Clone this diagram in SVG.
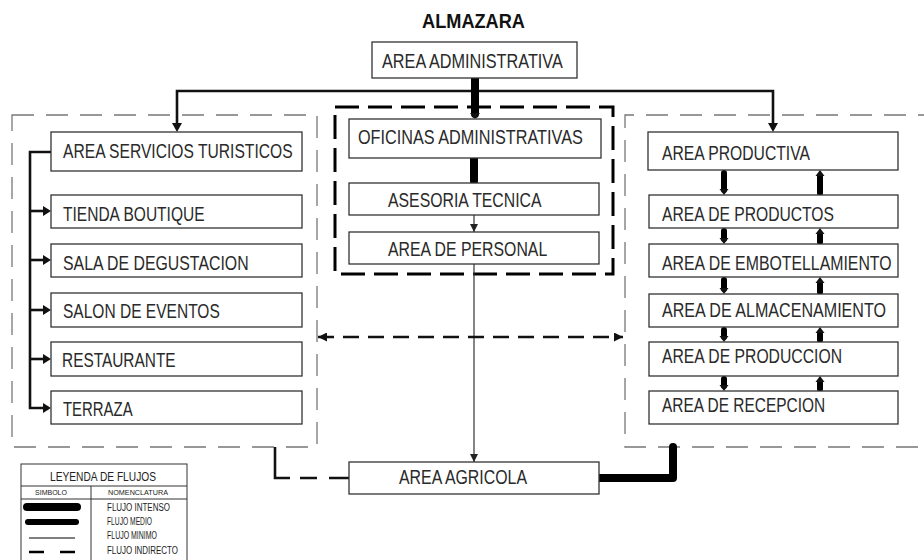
<svg xmlns="http://www.w3.org/2000/svg" width="924" height="560" viewBox="0 0 924 560">
<defs>
<style>
.bx{fill:#fff;stroke:#333;stroke-width:1.3}
.t{font-family:"Liberation Sans",Arial,sans-serif;font-size:21px;fill:#2a2a2a}
.ttl{font-family:"Liberation Sans",Arial,sans-serif;font-size:21px;font-weight:bold;fill:#111}
.lg{font-family:"Liberation Sans",Arial,sans-serif;fill:#222}
.zone{fill:none;stroke:#777;stroke-width:1.3;stroke-dasharray:22 12}
.med{fill:none;stroke:#111;stroke-width:2.6}
.thin{fill:none;stroke:#333;stroke-width:1.2}
.heavy{fill:none;stroke:#000;stroke-linecap:round;stroke-linejoin:round}
.ah{fill:#111}
</style>
<marker id="arr" viewBox="0 0 10 10" refX="10" refY="5" markerWidth="9" markerHeight="9" markerUnits="userSpaceOnUse" orient="auto-start-reverse">
<path d="M0,0 L10,5 L0,10 z" fill="#111"/>
</marker>
<marker id="arrs" viewBox="0 0 10 10" refX="10" refY="5" markerWidth="8" markerHeight="8" markerUnits="userSpaceOnUse" orient="auto-start-reverse">
<path d="M0,0 L10,5 L0,10 z" fill="#222"/>
</marker>
</defs>
<rect width="924" height="560" fill="#fff"/>

<text class="ttl" x="422" y="28" textLength="103" lengthAdjust="spacingAndGlyphs">ALMAZARA</text>

<g id="zones">
<rect class="zone" x="12" y="115" width="305" height="332"/>
<path class="zone" d="M940,115 L625,115 L625,447 L940,447"/>
<rect x="335" y="107" width="278" height="167" fill="none" stroke="#000" stroke-width="3" stroke-dasharray="24 9"/>
</g>

<g id="connectors">
<path class="med" d="M177,124 L177,91 L773,91 L773,124"/>
<path class="ah" d="M172,123 L182,123 L177,132 z"/>
<path class="ah" d="M768,123 L778,123 L773,132 z"/>
<line class="heavy" x1="475" y1="77" x2="475" y2="114" stroke-width="8"/>
<path class="ah" d="M470,113 L480,113 L475,119 z"/>
<line class="heavy" x1="474" y1="158" x2="474" y2="181" stroke-width="8"/>
<line class="thin" x1="474" y1="215" x2="474" y2="232" marker-end="url(#arrs)"/>
<line class="thin" x1="474" y1="264" x2="474" y2="462" marker-end="url(#arrs)"/>
<path class="med" d="M51,152 L30,152 L30,408 L44,408"/>
<line class="med" x1="30" y1="211" x2="44" y2="211"/>
<line class="med" x1="30" y1="260" x2="44" y2="260"/>
<line class="med" x1="30" y1="310" x2="44" y2="310"/>
<line class="med" x1="30" y1="359" x2="44" y2="359"/>
<path class="ah" d="M43,206 L51,211 L43,216 z"/>
<path class="ah" d="M43,255 L51,260 L43,265 z"/>
<path class="ah" d="M43,305 L51,310 L43,315 z"/>
<path class="ah" d="M43,354 L51,359 L43,364 z"/>
<path class="ah" d="M43,403 L51,408 L43,413 z"/>
<line x1="318" y1="337" x2="623" y2="337" stroke="#111" stroke-width="2.6" stroke-dasharray="16 9" marker-start="url(#arr)" marker-end="url(#arr)"/>
<path d="M275,447 L275,478 L349,478" fill="none" stroke="#111" stroke-width="2.6" stroke-dasharray="46 10 17 12 20"/>
<path class="heavy" d="M599,478 L673,478 L673,447" stroke-width="8"/>
<g class="heavy" stroke-width="6">
<line x1="724" y1="173" x2="724" y2="190"/>
<line x1="724" y1="231" x2="724" y2="239"/>
<line x1="724" y1="280" x2="724" y2="289"/>
<line x1="724" y1="330" x2="724" y2="337"/>
<line x1="724" y1="379" x2="724" y2="386"/>
<line x1="820" y1="177" x2="820" y2="193"/>
<line x1="820" y1="235" x2="820" y2="242"/>
<line x1="820" y1="284" x2="820" y2="292"/>
<line x1="820" y1="334" x2="820" y2="340"/>
<line x1="820" y1="383" x2="820" y2="389"/>
</g>
<path class="ah" d="M719.5,189 L728.5,189 L724,195 z"/>
<path class="ah" d="M719.5,238 L728.5,238 L724,244 z"/>
<path class="ah" d="M719.5,288 L728.5,288 L724,294 z"/>
<path class="ah" d="M719.5,336 L728.5,336 L724,342 z"/>
<path class="ah" d="M719.5,385 L728.5,385 L724,391 z"/>
<path class="ah" d="M815.5,176 L824.5,176 L820,170 z"/>
<path class="ah" d="M815.5,234 L824.5,234 L820,228 z"/>
<path class="ah" d="M815.5,283 L824.5,283 L820,277 z"/>
<path class="ah" d="M815.5,333 L824.5,333 L820,327 z"/>
<path class="ah" d="M815.5,382 L824.5,382 L820,376 z"/>
</g>

<g id="area-administrativa"><rect class="bx" x="372" y="42" width="205" height="36"/><text class="t" transform="translate(382,68) scale(0.8,1)" textLength="226" lengthAdjust="spacingAndGlyphs">AREA ADMINISTRATIVA</text></g>

<g id="area-servicios-turisticos"><rect class="bx" x="51" y="132" width="251" height="39"/><text class="t" transform="translate(63,158) scale(0.8,1)" textLength="287" lengthAdjust="spacingAndGlyphs">AREA SERVICIOS TURISTICOS</text></g>
<g id="tienda-boutique"><rect class="bx" x="51" y="195" width="251" height="33"/><text class="t" transform="translate(63,221) scale(0.8,1)" textLength="177" lengthAdjust="spacingAndGlyphs">TIENDA BOUTIQUE</text></g>
<g id="sala-degustacion"><rect class="bx" x="51" y="244" width="251" height="33"/><text class="t" transform="translate(63,270) scale(0.8,1)" textLength="232" lengthAdjust="spacingAndGlyphs">SALA DE DEGUSTACION</text></g>
<g id="salon-eventos"><rect class="bx" x="51" y="293" width="251" height="34"/><text class="t" transform="translate(63,318) scale(0.8,1)" textLength="196" lengthAdjust="spacingAndGlyphs">SALON DE EVENTOS</text></g>
<g id="restaurante"><rect class="bx" x="51" y="342" width="251" height="34"/><text class="t" transform="translate(62,367) scale(0.8,1)" textLength="142" lengthAdjust="spacingAndGlyphs">RESTAURANTE</text></g>
<g id="terraza"><rect class="bx" x="51" y="391" width="251" height="33"/><text class="t" transform="translate(63,416) scale(0.8,1)" textLength="87" lengthAdjust="spacingAndGlyphs">TERRAZA</text></g>

<g id="oficinas-administrativas"><rect class="bx" x="349" y="119" width="252" height="39"/><text class="t" transform="translate(358,144) scale(0.8,1)" textLength="281" lengthAdjust="spacingAndGlyphs">OFICINAS ADMINISTRATIVAS</text></g>
<g id="asesoria-tecnica"><rect class="bx" x="349" y="183" width="250" height="32"/><text class="t" transform="translate(388,207) scale(0.8,1)" textLength="192" lengthAdjust="spacingAndGlyphs">ASESORIA TECNICA</text></g>
<g id="area-personal"><rect class="bx" x="349" y="232" width="250" height="32"/><text class="t" transform="translate(388,256) scale(0.8,1)" textLength="199" lengthAdjust="spacingAndGlyphs">AREA DE PERSONAL</text></g>
<g id="area-agricola"><rect class="bx" x="349" y="462" width="250" height="32"/><text class="t" transform="translate(399,484) scale(0.8,1)" textLength="160" lengthAdjust="spacingAndGlyphs">AREA AGRICOLA</text></g>

<g id="area-productiva"><rect class="bx" x="648" y="132" width="250" height="38"/><text class="t" transform="translate(662,160) scale(0.8,1)" textLength="185" lengthAdjust="spacingAndGlyphs">AREA PRODUCTIVA</text></g>
<g id="area-productos"><rect class="bx" x="649" y="195" width="249" height="33"/><text class="t" transform="translate(662,221) scale(0.8,1)" textLength="215" lengthAdjust="spacingAndGlyphs">AREA DE PRODUCTOS</text></g>
<g id="area-embotellamiento"><rect class="bx" x="649" y="244" width="249" height="33"/><text class="t" transform="translate(662,270) scale(0.8,1)" textLength="287" lengthAdjust="spacingAndGlyphs">AREA DE EMBOTELLAMIENTO</text></g>
<g id="area-almacenamiento"><rect class="bx" x="649" y="294" width="249" height="33"/><text class="t" transform="translate(662,317) scale(0.8,1)" textLength="280" lengthAdjust="spacingAndGlyphs">AREA DE ALMACENAMIENTO</text></g>
<g id="area-produccion"><rect class="bx" x="649" y="342" width="249" height="34"/><text class="t" transform="translate(662,363) scale(0.8,1)" textLength="225" lengthAdjust="spacingAndGlyphs">AREA DE PRODUCCION</text></g>
<g id="area-recepcion"><rect class="bx" x="649" y="391" width="249" height="33"/><text class="t" transform="translate(662,412) scale(0.8,1)" textLength="204" lengthAdjust="spacingAndGlyphs">AREA DE RECEPCION</text></g>

<g id="legend">
<rect x="21" y="464" width="166" height="110" fill="#fff" stroke="#333" stroke-width="1"/>
<line x1="21" y1="486" x2="187" y2="486" stroke="#333" stroke-width="1"/>
<line x1="21" y1="499" x2="187" y2="499" stroke="#333" stroke-width="1"/>
<line x1="91" y1="486" x2="91" y2="574" stroke="#333" stroke-width="1"/>
<text class="lg" x="50" y="481" font-size="12" textLength="106" lengthAdjust="spacingAndGlyphs">LEYENDA DE FLUJOS</text>
<text class="lg" x="35" y="495" font-size="7" textLength="32" lengthAdjust="spacingAndGlyphs">SIMBOLO</text>
<text class="lg" x="108" y="495" font-size="7" textLength="60" lengthAdjust="spacingAndGlyphs">NOMENCLATURA</text>
<line x1="27" y1="507" x2="77" y2="507" stroke="#000" stroke-width="8" stroke-linecap="round"/>
<line x1="28" y1="522" x2="76" y2="522" stroke="#000" stroke-width="6" stroke-linecap="round"/>
<line x1="29" y1="538" x2="75" y2="538" stroke="#000" stroke-width="1"/>
<line x1="29" y1="552" x2="75" y2="552" stroke="#000" stroke-width="2.6" stroke-dasharray="15 16"/>
<text class="lg" x="107" y="511" font-size="10" textLength="63" lengthAdjust="spacingAndGlyphs">FLUJO INTENSO</text>
<text class="lg" x="107" y="525" font-size="10" textLength="45" lengthAdjust="spacingAndGlyphs">FLUJO MEDIO</text>
<text class="lg" x="107" y="539" font-size="10" textLength="50" lengthAdjust="spacingAndGlyphs">FLUJO MINIMO</text>
<text class="lg" x="107" y="554" font-size="10" textLength="71" lengthAdjust="spacingAndGlyphs">FLUJO INDIRECTO</text>
</g>
</svg>
